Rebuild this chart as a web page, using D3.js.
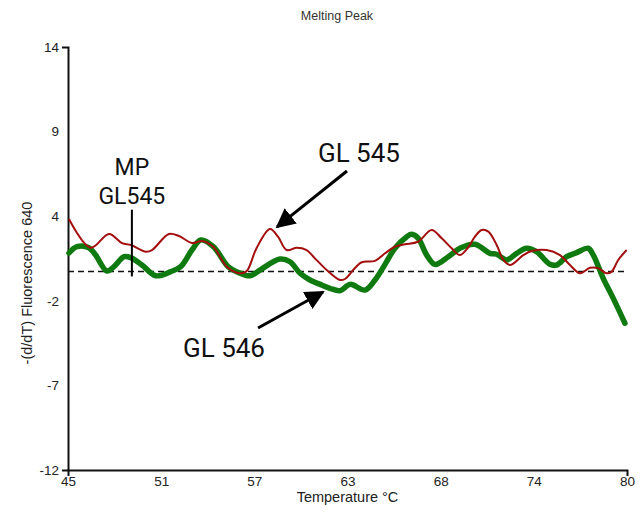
<!DOCTYPE html>
<html>
<head>
<meta charset="utf-8">
<script src="https://cdn.jsdelivr.net/npm/d3@7"></script>
<style>
  html, body { margin: 0; padding: 0; background: #fff; }
  svg { display: block; }
</style>
</head>
<body>
<script>
// Melting peak curves: -(d/dT) fluorescence vs temperature (°C)
const gl545Temp = [45.06,46.42,47.57,48.38,48.94,49.88,50.26,51.32,51.95,52.76,53.39,54.08,54.94,55.77,56.19,56.81,57.65,58.15,58.69,59.32,59.94,60.46,61.20,62.03,62.34,62.97,63.39,64.22,64.85,65.47,66.10,66.91,67.77,68.40,69.02,69.54,70.04,70.48,70.90,71.32,71.84,72.26,72.67,73.51,74.03,74.97,75.80,76.43,77.06,77.68,78.20,78.73,79.04,79.45,79.98];
const gl545Value = [3.43,1.66,2.51,1.95,1.83,1.42,1.52,2.51,2.38,1.95,2.08,1.73,0.50,0.09,0.23,1.65,2.81,2.34,1.52,1.66,1.52,1.01,0.29,-0.32,-0.26,0.42,0.77,0.85,1.32,1.73,1.87,2.03,2.75,2.24,1.63,1.21,1.66,2.34,2.75,2.65,1.83,0.91,0.60,1.21,1.46,1.52,1.21,0.60,0.09,0.43,0.40,0.09,0.19,0.91,1.52];

const gl546Temp = [45.06,45.56,46.31,46.73,47.44,47.88,48.51,48.93,49.63,50.49,51.43,52.06,52.76,53.31,54.10,55.02,55.56,56.40,57.02,58.27,58.90,59.53,60.15,60.78,61.40,62.03,62.66,63.60,64.22,64.85,65.47,66.21,66.52,66.93,67.46,67.98,68.81,69.54,70.48,71.42,71.84,72.47,73.09,73.72,74.34,75.17,75.59,76.22,76.85,77.57,77.89,78.51,79.14,79.87];
const gl546Value = [1.34,1.73,1.66,1.21,0.23,0.50,1.11,1.05,0.60,-0.06,0.19,0.50,1.52,2.14,1.73,0.50,0.19,-0.06,0.29,0.97,0.80,0.09,-0.32,-0.59,-0.83,-0.98,-0.59,-0.94,-0.32,0.64,1.63,2.34,2.49,2.24,1.21,0.64,1.11,1.63,1.87,1.32,1.26,0.91,1.32,1.63,1.42,0.64,0.60,1.11,1.36,1.63,1.21,-0.22,-1.45,-2.98];

const xTickLabels = ["45","51","57","63","68","74","80"];
const yTickLabels = ["-12","-7","-2","4","9","14"];
const thresholdValue = 0.2;

// Melting-point marker and annotations (data units)
const mpTemp = 49.0, mpTop = 4.0, mpBottom = -0.1;
const mpLabels = ["MP", "GL545"];

const width = 643, height = 516;
const margin = {left: 68, right: 16, top: 47, bottom: 46};

const svg = d3.select("body").append("svg")
  .attr("width", width).attr("height", height);

const x = d3.scaleLinear().domain([45, 80]).range([margin.left, width - margin.right]);
const y = d3.scaleLinear().domain([-12, 14]).range([height - margin.bottom, margin.top]);

const tickFont = "'Liberation Sans Narrow', 'Arial Narrow', 'Liberation Sans', Arial, sans-serif";

// Axes: evenly spaced ticks, labels rounded as printed
const xTicks = xTickLabels.map((_, i) => 45 + i * 35 / (xTickLabels.length - 1));
const yTicks = yTickLabels.map((_, i) => -12 + i * 26 / (yTickLabels.length - 1));

const xAxis = svg.append("g")
  .attr("transform", `translate(0,${y(-12)})`)
  .call(d3.axisBottom(x).tickValues(xTicks)
    .tickFormat((d, i) => xTickLabels[i]).tickSizeInner(0).tickSizeOuter(6).tickPadding(6));
const yAxis = svg.append("g")
  .attr("transform", `translate(${x(45)},0)`)
  .call(d3.axisLeft(y).tickValues(yTicks)
    .tickFormat((d, i) => yTickLabels[i]).tickSizeInner(0).tickSizeOuter(6).tickPadding(9));

[xAxis, yAxis].forEach(g => {
  g.select(".domain").attr("stroke", "#111").attr("stroke-width", 2);
  g.selectAll("text").attr("font-family", tickFont).attr("font-size", 13.5).attr("fill", "#222");
});

// Axis titles
svg.append("text")
  .attr("x", x(62.5)).attr("y", 502)
  .attr("text-anchor", "middle")
  .attr("font-family", tickFont).attr("font-size", 14.5).attr("fill", "#222")
  .text("Temperature °C");

svg.append("text")
  .attr("transform", `translate(32,${283}) rotate(-90)`)
  .attr("text-anchor", "middle")
  .attr("font-family", tickFont).attr("font-size", 14.5).attr("fill", "#222")
  .text("-(d/dT) Fluorescence 640");

svg.append("text")
  .attr("x", 337).attr("y", 20)
  .attr("text-anchor", "middle")
  .attr("font-family", tickFont).attr("font-size", 12.5).attr("fill", "#333")
  .text("Melting Peak");

// Threshold line
svg.append("line")
  .attr("x1", x(45)).attr("x2", x(80))
  .attr("y1", y(thresholdValue)).attr("y2", y(thresholdValue))
  .attr("stroke", "#111").attr("stroke-width", 1.5)
  .attr("stroke-dasharray", "6,4");

const line = d3.line()
  .x(d => x(d[0])).y(d => y(d[1]))
  .curve(d3.curveCatmullRom.alpha(0.5));

svg.append("path")
  .datum(d3.zip(gl546Temp, gl546Value))
  .attr("d", line)
  .attr("fill", "none").attr("stroke", "#0f7a0f")
  .attr("stroke-width", 5.5).attr("stroke-linejoin", "round").attr("stroke-linecap", "round");

svg.append("path")
  .datum(d3.zip(gl545Temp, gl545Value))
  .attr("d", line)
  .attr("fill", "none").attr("stroke", "#a30f0f")
  .attr("stroke-width", 2).attr("stroke-linejoin", "round");

// Melting-point marker
svg.append("line")
  .attr("x1", x(mpTemp)).attr("x2", x(mpTemp))
  .attr("y1", y(mpTop)).attr("y2", y(mpBottom))
  .attr("stroke", "#000").attr("stroke-width", 2);

const labelFont = "Roboto, 'Liberation Sans', Arial, sans-serif";
svg.append("text")
  .attr("x", x(mpTemp)).attr("y", y(6.13))
  .attr("text-anchor", "middle")
  .attr("font-family", labelFont).attr("font-size", 23).attr("fill", "#111")
  .text(mpLabels[0]);
svg.append("text")
  .attr("x", x(mpTemp)).attr("y", y(4.38))
  .attr("text-anchor", "middle")
  .attr("font-family", labelFont).attr("font-size", 23).attr("fill", "#111")
  .text(mpLabels[1]);

// Callout arrows
svg.append("defs").append("marker")
  .attr("id", "head")
  .attr("viewBox", "0 0 10 10").attr("refX", 9).attr("refY", 5)
  .attr("markerWidth", 6.5).attr("markerHeight", 6.5)
  .attr("markerUnits", "strokeWidth")
  .attr("orient", "auto")
  .append("path").attr("d", "M0,0 L10,5 L0,10 Z").attr("fill", "#000");

const callouts = [
  {label: "GL 545", tx: 60.65, tv: 6.93, from: [62.47, 6.38], to: [58.09, 2.94]},
  {label: "GL 546", tx: 52.2, tv: -5.05, from: [56.90, -3.27], to: [60.97, -1.06]}
];

callouts.forEach(c => {
  svg.append("line")
    .attr("x1", x(c.from[0])).attr("y1", y(c.from[1]))
    .attr("x2", x(c.to[0])).attr("y2", y(c.to[1]))
    .attr("stroke", "#000").attr("stroke-width", 3)
    .attr("marker-end", "url(#head)");
  svg.append("text")
    .attr("x", x(c.tx)).attr("y", y(c.tv))
    .attr("font-family", labelFont).attr("font-size", 26).attr("fill", "#111")
    .text(c.label);
});
</script>
</body>
</html>
